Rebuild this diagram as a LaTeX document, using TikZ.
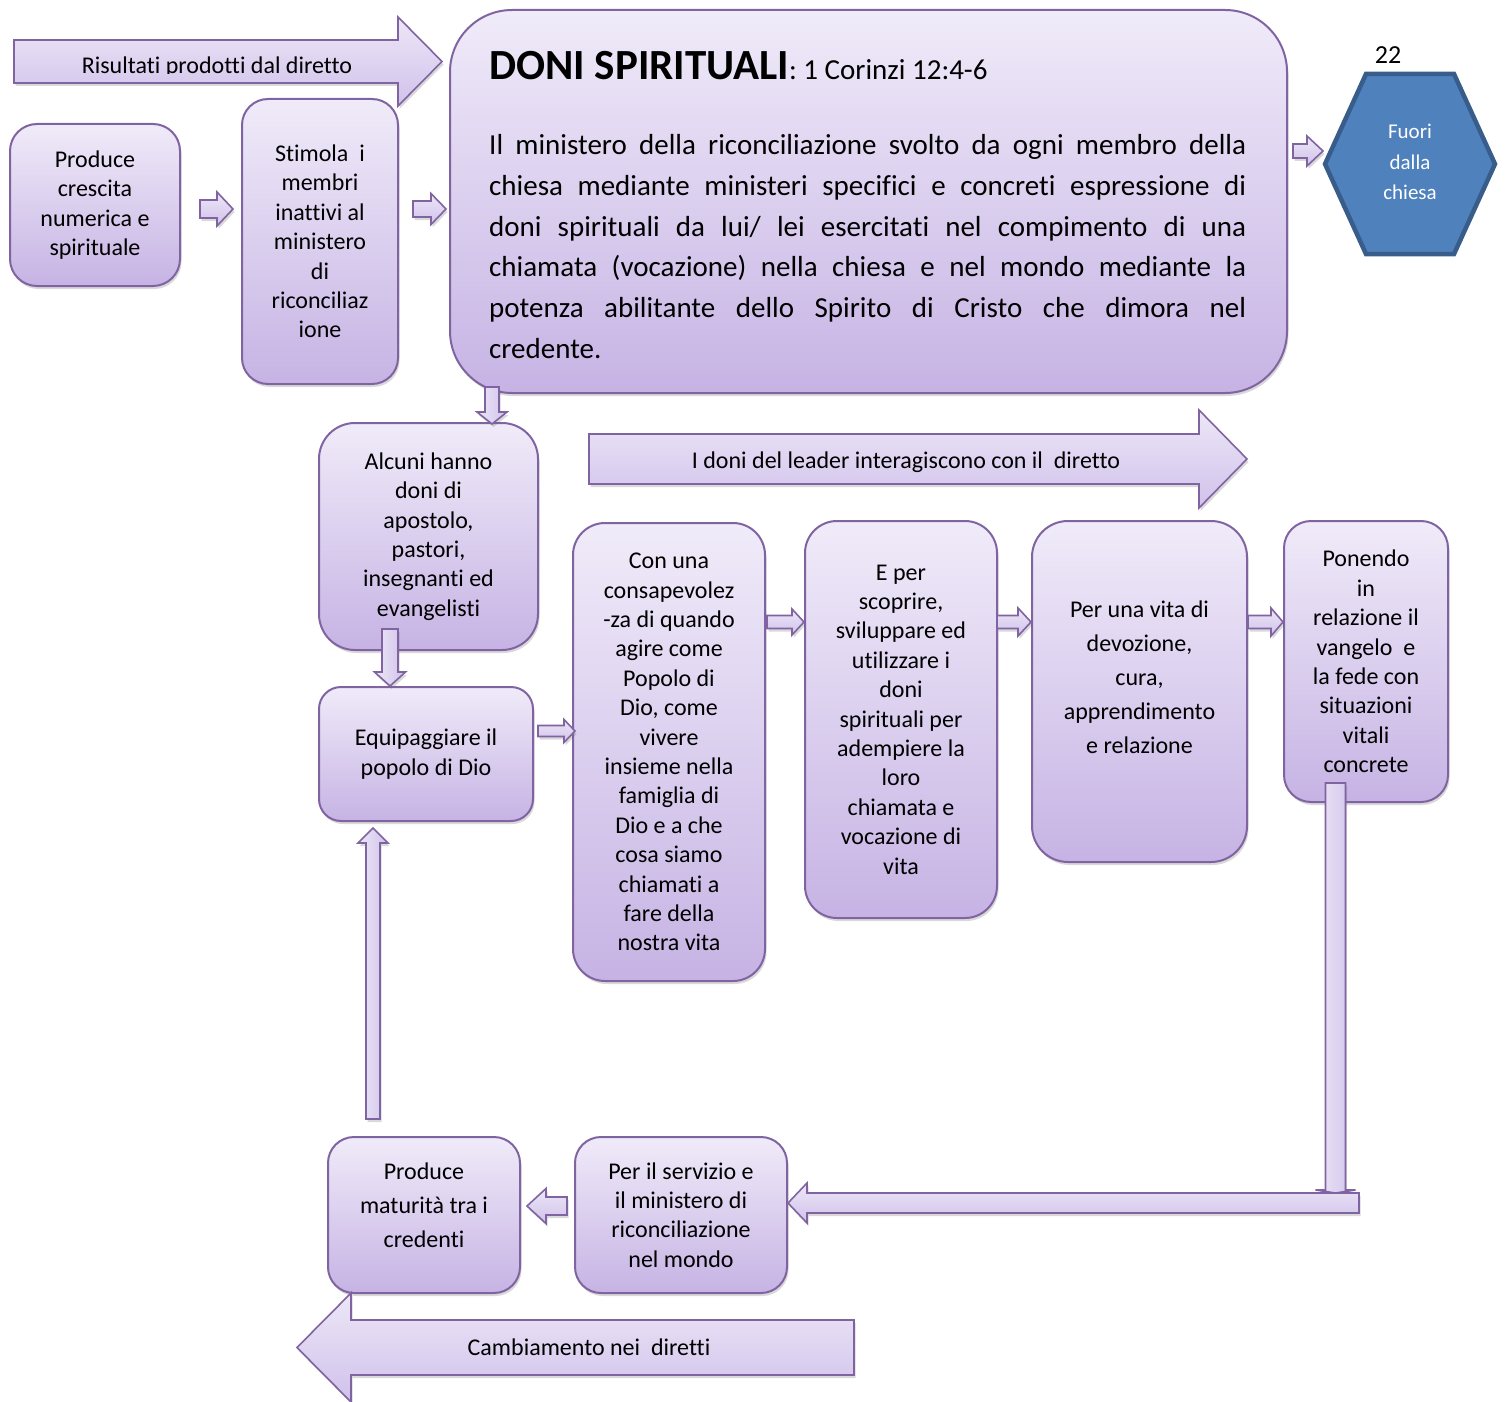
\documentclass[tikz,border=0pt]{standalone}
\usepackage{fontspec}
\setmainfont{Carlito}[Ligatures={TeX,NoCommon}]
\usetikzlibrary{calc,shadows}

\definecolor{lavtop}{RGB}{240,235,249}
\definecolor{lavbot}{RGB}{198,179,228}
\definecolor{lavline}{RGB}{128,100,162}
\definecolor{arrtop}{RGB}{237,231,247}
\definecolor{arrbot}{RGB}{208,193,235}
\definecolor{hexfill}{RGB}{79,129,189}
\definecolor{hexline}{RGB}{56,93,138}

\tikzset{
  softshadow/.style={drop shadow={shadow xshift=1.5pt,shadow yshift=-3pt,opacity=0.25,fill=black!60}},
  box/.style={draw=lavline,line width=2pt,top color=lavtop,bottom color=lavbot,softshadow,
    align=flush center,inner sep=0pt,font=\fontsize{24pt}{29.4pt}\selectfont},
  boxtext/.style={align=flush center,inner sep=0pt,font=\fontsize{24pt}{29.4pt}\selectfont},
  hfatstyle/.style={draw=lavline,line width=1.6pt,top color=arrtop,bottom color=arrbot,softshadow},
  vfatstyle/.style={draw=lavline,line width=1.6pt,left color=arrtop,right color=arrbot,softshadow},
  arrlabel/.style={inner sep=0pt,anchor=base,font=\fontsize{24pt}{29.4pt}\selectfont},
}

% horizontal block arrow: start of shaft, tip, shaft half width, head half width, head length
\newcommand\hfat[5]{%
  \path[hfatstyle] let \p1=(#1), \p2=(#2), \n1={ifthenelse(\x2>\x1,#5,-#5)} in
    ({\x1},{\y1+#3pt}) -- ({\x2-(\n1)*1pt},{\y1+#3pt}) -- ({\x2-(\n1)*1pt},{\y1+#4pt})
    -- ({\x2},{\y1}) -- ({\x2-(\n1)*1pt},{\y1-#4pt}) -- ({\x2-(\n1)*1pt},{\y1-#3pt})
    -- ({\x1},{\y1-#3pt}) -- cycle;}
% vertical block arrow, same arguments
\newcommand\vfat[5]{%
  \path[vfatstyle] let \p1=(#1), \p2=(#2), \n1={ifthenelse(\y2>\y1,#5,-#5)} in
    ({\x1+#3pt},{\y1}) -- ({\x1+#3pt},{\y2-(\n1)*1pt}) -- ({\x1+#4pt},{\y2-(\n1)*1pt})
    -- ({\x1},{\y2}) -- ({\x1-#4pt},{\y2-(\n1)*1pt}) -- ({\x1-#3pt},{\y2-(\n1)*1pt})
    -- ({\x1-#3pt},{\y1}) -- cycle;}

\begin{document}
\begin{tikzpicture}[x=1pt,y=-1pt]
\useasboundingbox (0,0) rectangle (1505,1402);

% ---- boxes ----
\node[box,minimum width=837pt,minimum height=383pt,rounded corners=62pt] (main) at (868.5,201.5) {};
\node[box,minimum width=170pt,minimum height=162pt,text width=166pt,rounded corners=27pt] (prod1) at (95,205)
  {Produce\\crescita\\numerica e\\spirituale};
\node[box,minimum width=156pt,minimum height=285pt,text width=152pt,rounded corners=26pt] (stim) at (320,241.5)
  {Stimola\ \ i\\membri\\inattivi al\\ministero\\di\\riconciliaz\\ione};
\node[box,minimum width=219pt,minimum height=227pt,text width=215pt,rounded corners=36pt] (alc) at (428.5,536.5)
  {Alcuni hanno\\doni di\\apostolo,\\pastori,\\insegnanti ed\\evangelisti};
\node[box,minimum width=214pt,minimum height=134pt,text width=210pt,rounded corners=22pt] (equip) at (426,754)
  {Equipaggiare il\\popolo di Dio};
\node[box,minimum width=192pt,minimum height=458pt,text width=188pt,rounded corners=32pt] (con) at (669,752)
  {Con una\\consapevolez\\-za di quando\\agire come\\Popolo di\\Dio, come\\vivere\\insieme nella\\famiglia di\\Dio e a che\\cosa siamo\\chiamati a\\fare della\\nostra vita};
\node[box,minimum width=192pt,minimum height=397pt,text width=188pt,rounded corners=32pt] (eper) at (901,719.5)
  {E per\\scoprire,\\sviluppare ed\\utilizzare i\\doni\\spirituali per\\adempiere la\\loro\\chiamata e\\vocazione di\\vita};
\node[box,minimum width=215pt,minimum height=341pt,rounded corners=36pt] (vita) at (1139.5,691.5) {};
\node[boxtext,text width=211pt,font=\fontsize{24pt}{34pt}\selectfont] (vitatxt) at ($(vita)+(0,-14)$)
  {Per una vita di\\devozione,\\cura,\\apprendimento\\e relazione};
\node[box,minimum width=164pt,minimum height=281pt,text width=160pt,rounded corners=27pt] (pon) at (1366,661.5)
  {Ponendo\\in\\relazione il\\vangelo\ \ e\\la fede con\\situazioni\\vitali\\concrete};
\node[box,minimum width=212pt,minimum height=156pt,text width=208pt,rounded corners=26pt] (serv) at (681,1215)
  {Per il servizio e\\il ministero di\\riconciliazione\\nel mondo};
\node[box,minimum width=192pt,minimum height=156pt,rounded corners=26pt] (matur) at (424,1215) {};
\node[boxtext,text width=188pt,font=\fontsize{24pt}{34pt}\selectfont] (maturtxt) at ($(matur)+(0,-10)$)
  {Produce\\maturità tra i\\credenti};

% ---- heading and text of the central box ----
\node[anchor=base west,inner sep=0pt] (title) at ($(main.north west)+(40,71)$)
  {{\fontsize{43pt}{50pt}\selectfont\bfseries DONI SPIRITUALI}{\fontsize{29pt}{35pt}\selectfont: 1 Corinzi 12:4-6}};
\node[anchor=base west,inner sep=0pt] (body) at ($(main.north west)+(40,145)$)
  {\fontsize{29pt}{41pt}\selectfont\parbox[t]{757pt}{%
    \makebox[757pt][s]{Il ministero della riconciliazione svolto da ogni membro della}\\
    \makebox[757pt][s]{chiesa mediante ministeri specifici e concreti espressione di}\\
    \makebox[757pt][s]{doni spirituali da lui/ lei esercitati nel compimento di una}\\
    \makebox[757pt][s]{chiamata (vocazione) nella chiesa e nel mondo mediante la}\\
    \makebox[757pt][s]{potenza abilitante dello Spirito di Cristo che dimora nel}\\
    credente.}};

% ---- hexagon ----
\coordinate (hexc) at (1410,164);
\draw[fill=hexfill,draw=hexline,line width=4.5pt,shift={(hexc)}]
  (-85,0) -- (-44,-90) -- (44,-90) -- (85,0) -- (44,90) -- (-44,90) -- cycle;
\node[align=center,inner sep=0pt,text=white,font=\fontsize{21pt}{30.5pt}\selectfont] (fuori) at ($(hexc)+(0,-2)$)
  {Fuori\\dalla\\chiesa};
\node[inner sep=0pt,font=\fontsize{26pt}{30pt}\selectfont] (num) at (1388,55) {22};

% ---- large labelled arrows ----
\coordinate (risS) at (14,61.5);
\hfat{risS}{$(main.west)+(-7,0)$}{21.5}{44.5}{44}
\begin{scope}
  \clip (14,38) rectangle (398,73.5);
  \node[arrlabel] (ristxt) at (217,73.5) {Risultati prodotti dal diretto};
\end{scope}

\coordinate (leadS) at (589,459);
\coordinate (leadE) at (1247,459);
\hfat{leadS}{leadE}{25}{49}{48}
\node[arrlabel] (leadtxt) at (906,468) {I doni del leader interagiscono con il\ \ diretto};

\coordinate (camS) at (854,1347.5);
\hfat{camS}{$(matur.south west)+(-30,54.5)$}{27.5}{54.5}{54}
\node[arrlabel] (camtxt) at (589,1355) {Cambiamento nei\ \ diretti};

% ---- connecting block arrows ----
\hfat{$(prod1.east)+(19,4)$}{$(stim.west)+(-8,0)$}{9}{17}{16}
\hfat{$(stim.east)+(14,-32.5)$}{$(main.west)+(-3,0)$}{8}{15.5}{15}
\hfat{$(main.east)+(5,-50.5)$}{$(hexc)+(-87,0)$}{7}{15}{16}
\vfat{$(alc.north)+(63.5,-35)$}{$(alc.north)+(0,2)$}{7}{15}{12}
\vfat{$(alc.south)+(-38.5,-22)$}{equip.north}{8}{15.5}{14}
\hfat{$(equip.east)+(4,-23)$}{$(con.west)+(3,0)$}{5.5}{11.5}{11}
\hfat{$(con.east)+(1,-130)$}{eper.west}{6.5}{13}{12}
\hfat{$(eper.east)+(-1,-97.5)$}{vita.west}{6.5}{14}{13}
\hfat{$(vita.east)+(0,-69.5)$}{pon.west}{6.5}{14}{12}
\vfat{$(pon.south)+(-30.5,-20)$}{$(serv.east)+(548.5,-22)$}{10}{20}{3}
\hfat{$(serv.east)+(571,-12)$}{serv.east}{10}{20}{19}
\hfat{$(serv.west)+(-7,-9)$}{$(matur.east)+(6,0)$}{9}{17.5}{19}
\vfat{$(matur.north)+(-51,-17)$}{$(equip.south)+(0,6)$}{7}{15}{15}
\end{tikzpicture}
\end{document}
